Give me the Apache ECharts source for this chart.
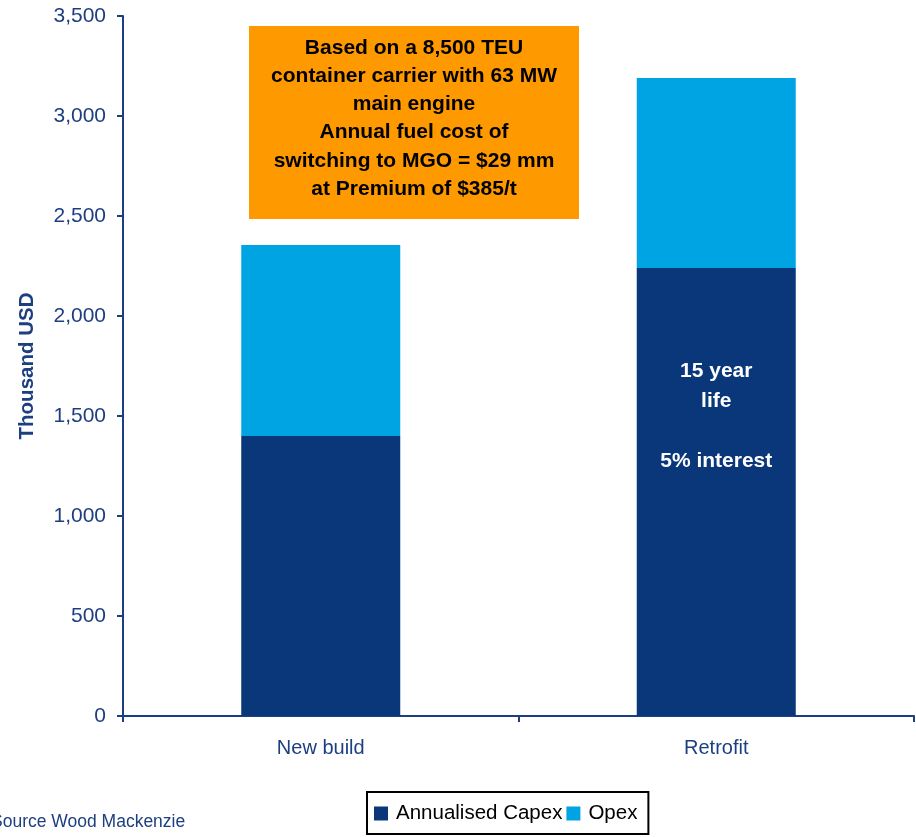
<!DOCTYPE html>
<html>
<head>
<meta charset="utf-8">
<script src="https://cdn.jsdelivr.net/npm/echarts@6/dist/echarts.min.js"></script>
<style>
  html, body { margin: 0; padding: 0; background: #ffffff; }
  #chart { width: 916px; height: 837px; }
</style>
</head>
<body>
<div id="chart"></div>
<script>
// Annual cost of switching, thousand USD
const categories = ['New build', 'Retrofit'];
const capex = [1400, 2240];
const opex = [955, 950];
const yTicks = [0, 500, 1000, 1500, 2000, 2500, 3000, 3500];
const noteLines = [
  'Based on a 8,500 TEU',
  'container carrier with 63 MW',
  'main engine',
  'Annual fuel cost of',
  'switching to MGO = $29 mm',
  'at Premium of $385/t'
];
const retrofitNote = ['15 year', 'life', '', '5% interest'];

const NAVY = '#0A367A';
const LIGHT = '#00A4E2';
const AXIS = '#1D3F80';
const FONT = '"Liberation Sans", Arial, sans-serif';

const chart = echarts.init(document.getElementById('chart'));

chart.setOption({
  animation: false,
  backgroundColor: '#ffffff',
  textStyle: { fontFamily: FONT },
  grid: { left: 123, right: 2, top: 16, bottom: 121, containLabel: false },
  legend: {
    top: 792,
    left: 367,
    itemWidth: 14,
    itemHeight: 14,
    itemGap: 4,
    padding: [11, 11, 10, 7],
    borderColor: '#000000',
    borderWidth: 2,
    icon: 'rect',
    textStyle: { fontFamily: FONT, fontSize: 20.5, color: '#000000', padding: [0, 0, 0, 3] },
    data: ['Annualised Capex', 'Opex']
  },
  xAxis: {
    type: 'category',
    data: categories,
    axisLine: { lineStyle: { color: AXIS, width: 2 } },
    axisTick: { show: true, length: 6, alignWithLabel: false, lineStyle: { color: AXIS, width: 2 } },
    axisLabel: { color: AXIS, fontSize: 20, margin: 22, fontFamily: FONT }
  },
  yAxis: {
    type: 'value',
    min: yTicks[0],
    max: yTicks[yTicks.length - 1],
    interval: 500,
    name: 'Thousand USD',
    nameLocation: 'middle',
    nameGap: 85,
    nameTextStyle: { color: AXIS, fontSize: 20.5, fontWeight: 'bold', fontFamily: FONT },
    axisLine: { show: true, lineStyle: { color: AXIS, width: 2 } },
    axisTick: { show: true, inside: false, length: 6, lineStyle: { color: AXIS, width: 2 } },
    splitLine: { show: false },
    axisLabel: {
      color: AXIS, fontSize: 21, margin: 17, fontFamily: FONT,
      formatter: v => v.toLocaleString('en-US')
    }
  },
  series: [
    {
      name: 'Annualised Capex',
      type: 'bar',
      stack: 'cost',
      barWidth: 159,
      itemStyle: { color: NAVY },
      data: capex.map((v, i) => i === 1 ? {
        value: v,
        label: {
          show: true,
          position: 'insideTop',
          distance: 88,
          formatter: retrofitNote.join('\n'),
          color: '#ffffff',
          fontWeight: 'bold',
          fontSize: 21,
          lineHeight: 30,
          align: 'center',
          fontFamily: FONT
        }
      } : v)
    },
    {
      name: 'Opex',
      type: 'bar',
      stack: 'cost',
      barWidth: 159,
      itemStyle: { color: LIGHT },
      data: opex
    }
  ],
  graphic: [
    {
      type: 'rect',
      left: 249,
      top: 26,
      shape: { width: 330, height: 193 },
      style: { fill: '#FF9900' },
      z: 10
    },
    {
      type: 'text',
      x: 414,
      y: 34,
      z: 11,
      style: {
        text: noteLines.join('\n'),
        fill: '#000000',
        font: 'bold 21px ' + FONT,
        lineHeight: 28.2,
        align: 'center',
        verticalAlign: 'top'
      }
    },
    {
      type: 'text',
      x: -9,
      y: 813,
      style: {
        text: 'Source Wood Mackenzie',
        fill: AXIS,
        font: '17.5px ' + FONT,
        verticalAlign: 'top'
      }
    }
  ]
});
</script>
</body>
</html>
